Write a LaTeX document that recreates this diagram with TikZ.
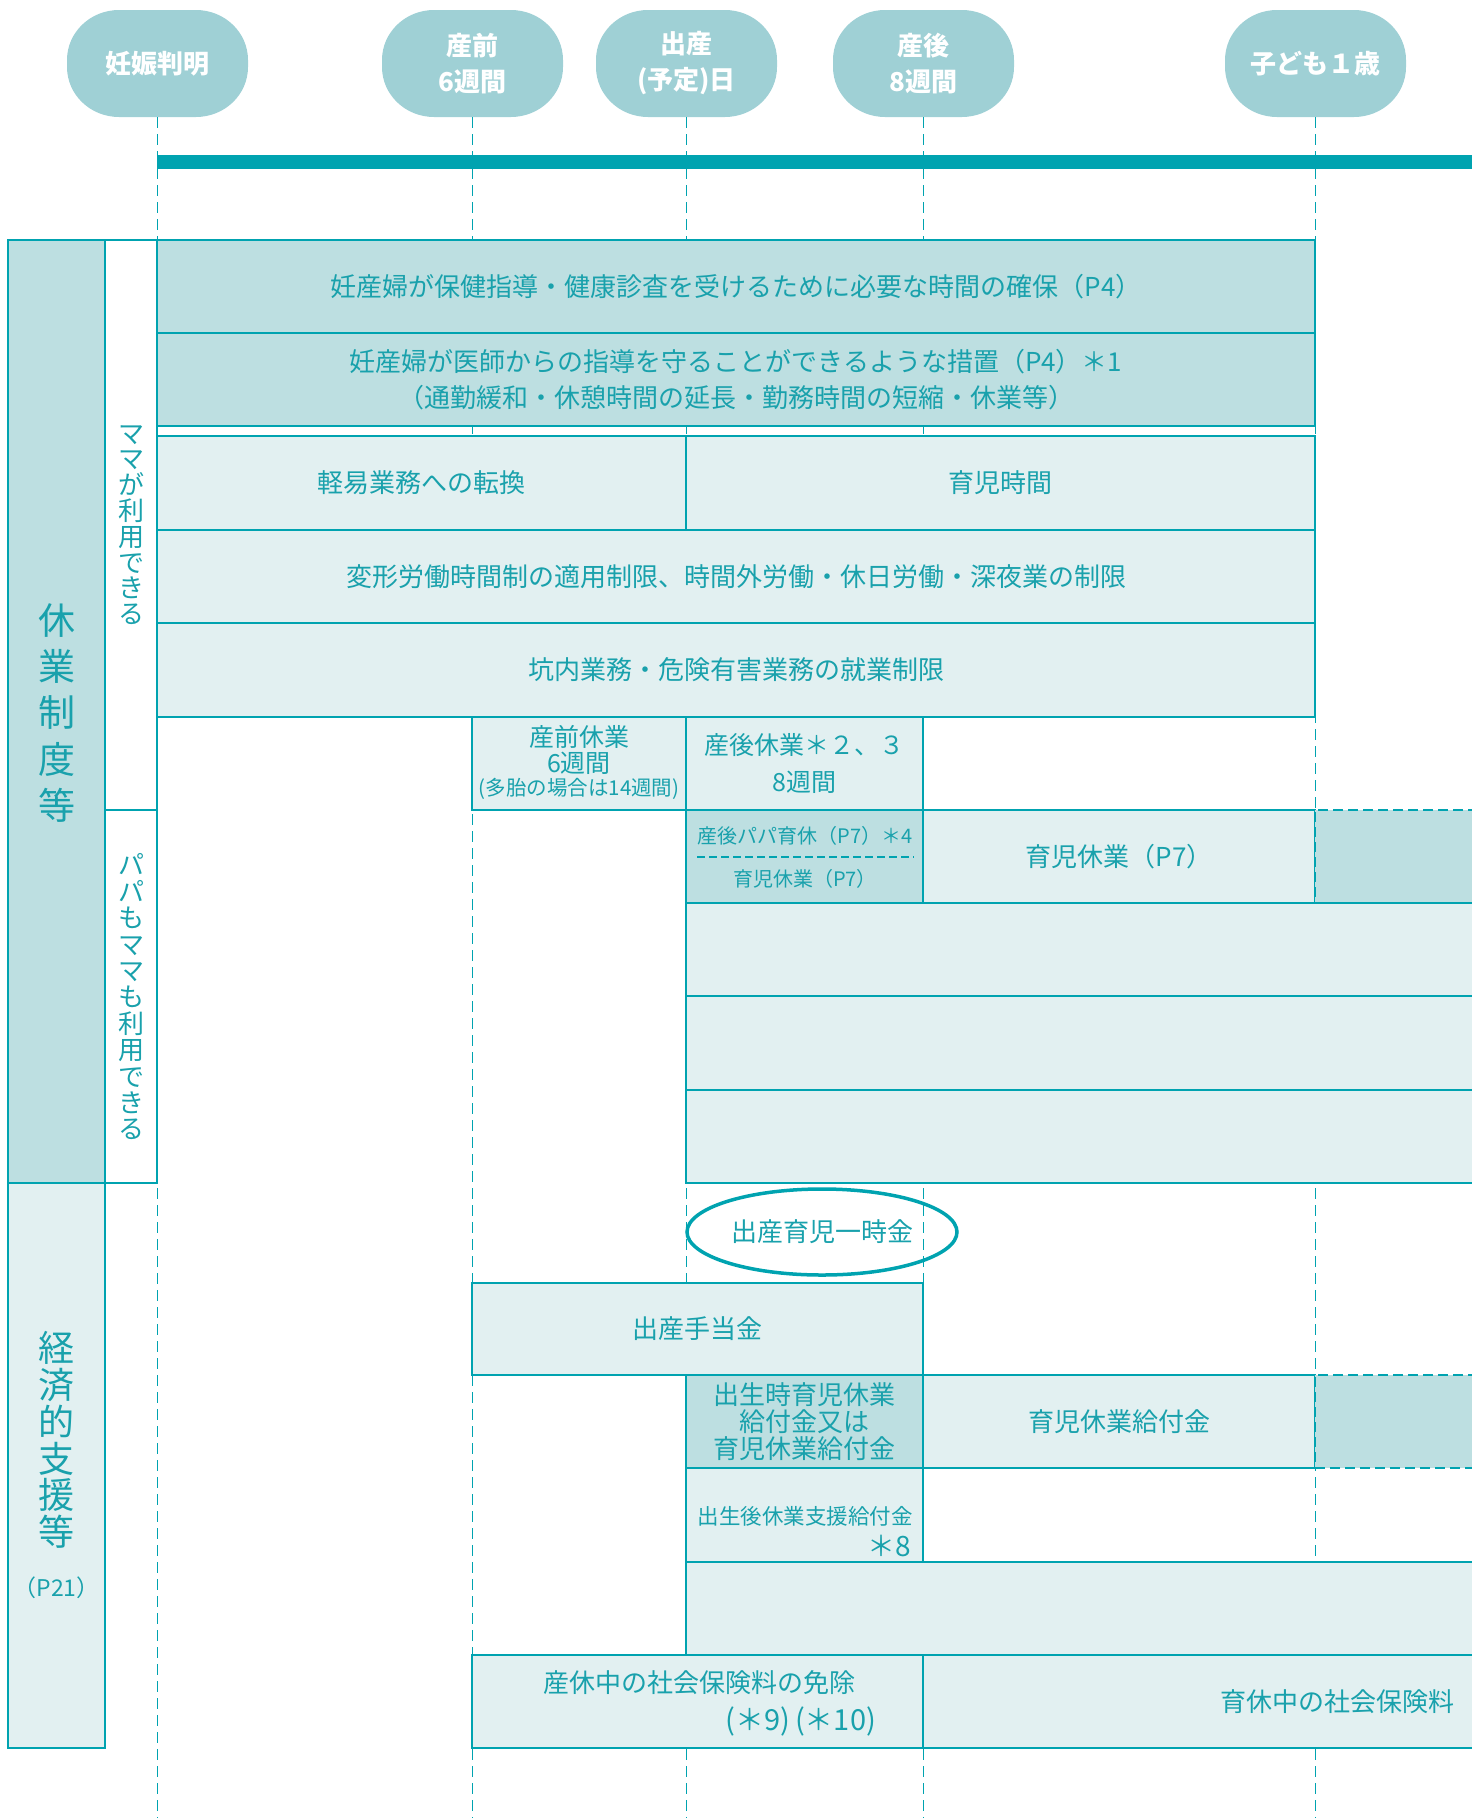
\documentclass[tikz,border=0pt]{standalone}
\usepackage{fontspec}
\setmainfont{Noto Sans CJK JP}
\usetikzlibrary{calc,shapes.geometric}
\definecolor{lc}{RGB}{0,163,176}
\definecolor{tc}{RGB}{25,161,172}
\definecolor{df}{RGB}{189,223,225}
\definecolor{lf}{RGB}{226,240,241}
\definecolor{pc}{RGB}{159,208,213}
\newcommand\myfs[2]{\fontsize{#1}{#2}\selectfont}
\newcommand\mycell[7][]{%
 \pgfmathsetmacro\myCX{(#3+#5)/2}%
 \pgfmathsetmacro\myCY{(#4+#6)/2}%
 \pgfmathsetmacro\myCW{#5-#3}%
 \pgfmathsetmacro\myCH{#6-#4}%
 \node[cell,minimum width=\myCW pt,minimum height=\myCH pt,#1] (#2) at (\myCX,\myCY) {#7};}
\newcommand\mypill[2]{%
 \fill[pc,shift={(#1,#2)}]
   (-90.5,-3.5) arc[start angle=180,end angle=270,x radius=52,y radius=50]
   -- (38.5,-53.5) arc[start angle=270,end angle=360,x radius=52,y radius=50]
   -- (90.5,3.5) arc[start angle=0,end angle=90,x radius=52,y radius=50]
   -- (-38.5,53.5) arc[start angle=90,end angle=180,x radius=52,y radius=50]
   -- cycle;}
\tikzset{
 cell/.style={draw=lc,line width=2.2pt,inner sep=0pt,outer sep=0pt,align=center,text=tc,font=\myfs{26}{31}},
 dk/.style={fill=df}, lt/.style={fill=lf}, wt/.style={fill=white},
 dashcell/.style={fill=df,draw=lc,line width=2pt,dash pattern=on 10pt off 5pt},
 guide/.style={draw=lc,line width=1.8pt,dash pattern=on 11pt off 6pt},
 txt/.style={inner sep=0pt,outer sep=0pt,align=center,text=tc,font=\myfs{26}{31}},
 sepline/.style={draw=lc,line width=1.8pt,dash pattern=on 8pt off 4pt},
 pill/.style={minimum width=181pt,minimum height=107pt,inner sep=0pt,outer sep=0pt,
  align=center,text=white,font=\bfseries\myfs{26}{36}},
}
\begin{document}
\begin{tikzpicture}[x=1pt,y=-1pt]
\useasboundingbox (0,0) rectangle (1472,1818);
\clip (0,0) rectangle (1472,1818);
% pills
\mypill{157.5}{63.5}
\mypill{472.5}{63.5}
\mypill{686.5}{63.5}
\mypill{923.5}{63.5}
\mypill{1315.5}{63.5}
\node[pill] (p1) at (157.5,63.5) {妊娠判明};
\node[pill] (p2) at (472.5,63.5) {産前\\6週間};
\node[pill] (p3) at (686.5,63.5) {出産\\(予定)日};
\node[pill] (p4) at (923.5,63.5) {産後\\8週間};
\node[pill] (p5) at (1315.5,63.5) {子ども１歳};
% time bar
\fill[lc] (157,155) rectangle (1500,169);
% guides
\coordinate (g1) at (157.5,1830);
\coordinate (g2) at (472.5,1830);
\coordinate (g3) at (686.5,1830);
\coordinate (g4) at (923.5,1830);
\coordinate (g5) at (1315.5,1830);
\draw[guide] (p1.south) -- (g1);
\draw[guide] (p2.south) -- (g2);
\draw[guide] (p3.south) -- (g3);
\draw[guide] (p4.south) -- (g4);
\draw[guide] (p5.south) -- (g5);
% left labels
\mycell[dk]{kyu}{8}{240}{105}{1183}{}
\node[txt,font=\myfs{37}{46.4}] (kyut) at (56.5,713) {休\\業\\制\\度\\等};
\mycell[wt]{mama}{105}{240}{157}{810}{}
\node[txt,font=\myfs{26}{25.8}] (mamat) at (131,525) {マ\\マ\\が\\利\\用\\で\\き\\る};
\mycell[wt]{papa}{105}{810}{157}{1183}{}
\node[txt,font=\myfs{26}{26.4}] (papat) at (131,997) {パ\\パ\\も\\マ\\マ\\も\\利\\用\\で\\き\\る};
\mycell[lt]{kei}{8}{1183}{105}{1748}{}
\node[txt,font=\myfs{36}{36.8}] (keit) at (56.5,1440) {経\\済\\的\\支\\援\\等};
\node[txt,font=\myfs{23}{28}] (p21) at (56.5,1588) {（P21）};
% mama rows
\mycell[dk]{r1}{157}{240}{1315}{333}{妊産婦が保健指導・健康診査を受けるために必要な時間の確保（P4）}
\mycell[dk,font=\myfs{26}{36}]{r2}{157}{333}{1315}{426}{妊産婦が医師からの指導を守ることができるような措置（P4）＊1\\（通勤緩和・休憩時間の延長・勤務時間の短縮・休業等）}
\mycell[lt]{r3a}{157}{436}{686}{530}{軽易業務への転換}
\mycell[lt]{r3b}{686}{436}{1315}{530}{育児時間}
\mycell[lt]{r4}{157}{530}{1315}{623}{変形労働時間制の適用制限、時間外労働・休日労働・深夜業の制限}
\mycell[lt]{r5}{157}{623}{1315}{717}{坑内業務・危険有害業務の就業制限}
\mycell[lt]{r6a}{472}{717}{686}{810}{}
\node[txt,font=\myfs{25}{26}] (r6at) at (579,750) {産前休業\\6週間};
\node[txt,font=\myfs{20.5}{24}] (r6at2) at (579,789) {(多胎の場合は14週間)};
\mycell[lt,font=\myfs{25}{37}]{r6b}{686}{717}{923}{810}{産後休業＊２、３\\8週間}
% papa rows
\mycell[dk]{r7a}{686}{810}{923}{903}{}
\node[txt,font=\myfs{20}{24}] (r7a1) at (805,836) {産後パパ育休（P7）＊4};
\coordinate (s7l) at (697,857);
\coordinate (s7r) at (914,857);
\draw[sepline] (s7l) -- (s7r);
\node[txt,font=\myfs{20}{24}] (r7a2) at (805,879) {育児休業（P7）};
\mycell[lt]{r7b}{923}{810}{1315}{903}{育児休業（P7）}
\mycell[dashcell]{r7c}{1315}{810}{1500}{903}{}
\mycell[lt]{r8}{686}{903}{1500}{996}{}
\mycell[lt]{r9}{686}{996}{1500}{1090}{}
\mycell[lt]{r10}{686}{1090}{1500}{1183}{}
% economic
\node[txt,draw=lc,line width=3.5pt,shape=ellipse,minimum width=270pt,minimum height=86pt] (ichiji) at (822,1232) {出産育児一時金};
\mycell[lt]{e1}{472}{1283}{923}{1375}{出産手当金}
\mycell[dk,font=\myfs{26}{26.7}]{e2a}{686}{1375}{923}{1468}{出生時育児休業\\給付金又は\\育児休業給付金}
\mycell[lt]{e2b}{923}{1375}{1315}{1468}{育児休業給付金}
\mycell[dashcell]{e2c}{1315}{1375}{1500}{1468}{}
\mycell[lt]{e3}{686}{1468}{923}{1562}{}
\node[txt,font=\myfs{21.5}{26}] (e3t) at (805,1516) {出生後休業支援給付金};
\node[txt,font=\myfs{28}{30},anchor=east] (e3s) at (911,1546) {＊8};
\mycell[lt]{e4}{686}{1562}{1500}{1655}{}
\mycell[lt]{e5a}{472}{1655}{923}{1748}{}
\node[txt] (e5t1) at (699,1683) {産休中の社会保険料の免除};
\node[txt,font=\myfs{29}{32},anchor=east] (e5t2) at (876,1721) {(＊9)\,(＊10)};
\mycell[lt]{e5b}{923}{1655}{1500}{1748}{}
\node[txt] (e5bt) at (1337,1702) {育休中の社会保険料};
\end{tikzpicture}
\end{document}
